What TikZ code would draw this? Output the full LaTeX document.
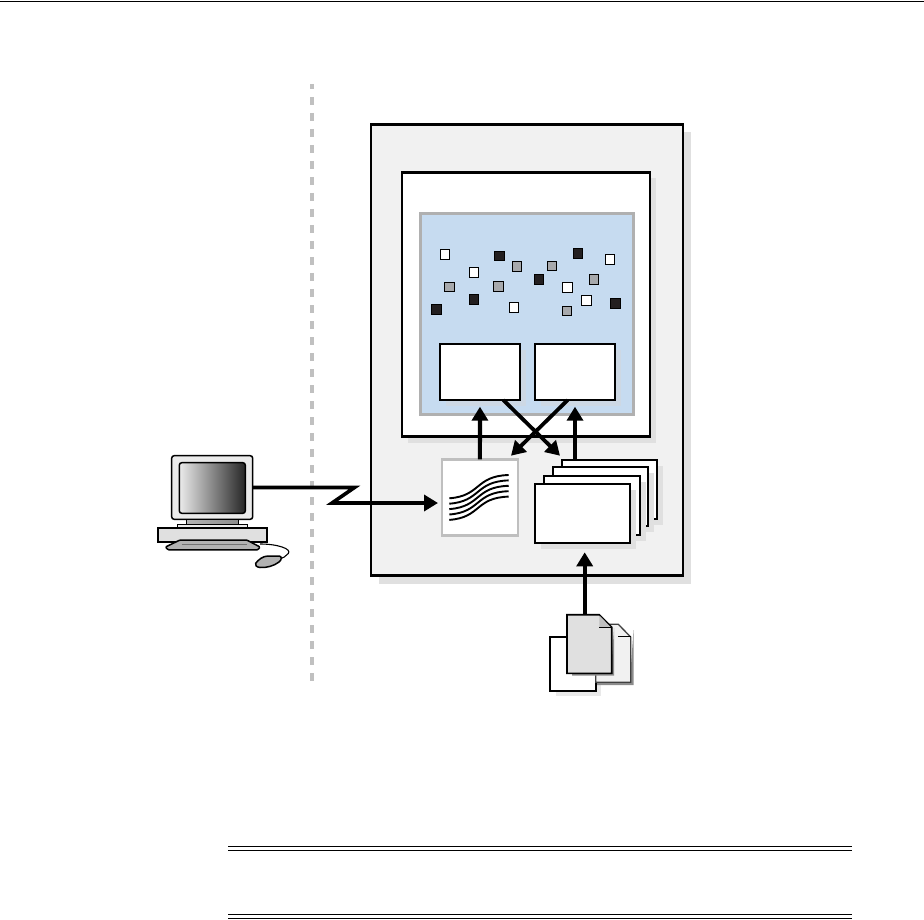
\documentclass[tikz,border=0pt]{standalone}
\usepackage{xcolor}
\usetikzlibrary{arrows.meta,shadows}
\definecolor{panelbg}{HTML}{f1f1f1}
\definecolor{shadowgray}{HTML}{e0e0e0}
\definecolor{memblue}{HTML}{c6dbf0}
\definecolor{memshadow}{HTML}{cdd8e4}
\definecolor{rimgray}{HTML}{b0b0b0}
\definecolor{darksq}{HTML}{231f20}
\definecolor{midsq}{HTML}{a7a9ac}
\begin{document}
\begin{tikzpicture}[x=1pt,y=-1pt,
  plainbox/.style={draw=black, line width=2.2pt, fill=white, inner sep=0pt, outer sep=0pt},
  panel/.style={plainbox, fill=panelbg,
    drop shadow={shadow xshift=8pt, shadow yshift=-8pt, opacity=1, fill=shadowgray}},
  sheet/.style={plainbox, minimum width=95.6pt, minimum height=59pt,
    drop shadow={shadow xshift=6pt, shadow yshift=-6pt, opacity=1, fill=shadowgray}},
  membox/.style={plainbox, minimum width=80pt, minimum height=56pt,
    drop shadow={shadow xshift=6pt, shadow yshift=-6pt, opacity=1, fill=memshadow}},
  sq/.style={draw=black, line width=1pt, inner sep=0pt, outer sep=0pt, minimum size=9.6pt},
  flow/.style={-{Triangle[length=14pt,width=16pt]}, line width=4.2pt, black},
  part/.style={draw=black, line width=1.5pt, inner sep=0pt, outer sep=0pt},
  rule/.style={line width=0.9pt, black}]
  \useasboundingbox (0,0) rectangle (924,920);
  \draw[rule] (0,1) -- (924,1);
  \draw[rule] (228,846) -- (852,846);
  \draw[rule] (228,850) -- (852,850);
  \draw[rule] (228,914) -- (852,914);
  \draw[rule] (228,918) -- (852,918);
  \draw[line width=4.4pt, color=rimgray!80, dash pattern=on 8pt off 8pt, dash phase=3pt] (312,84) -- (312,681);

  \node[panel, minimum width=311.5pt, minimum height=451pt] (server) at (527,350) {};
  \node[plainbox, minimum width=247.5pt, minimum height=264pt,
    drop shadow={shadow xshift=6pt, shadow yshift=-6pt, opacity=1, fill=shadowgray}] (instance) at (526,304.5) {};
  \node[draw=rimgray, line width=3pt, fill=memblue, inner sep=0pt, outer sep=0pt,
    minimum width=212.5pt, minimum height=201pt] (memory) at (526.75,314) {};

  \foreach \x/\y [count=\i] in {445/254.3, 474/272.7, 514/307.7, 567.3/287.7, 586.3/300.7, 610/259.3}
    \node[sq, fill=white] (light\i) at (\x,\y) {};
  \foreach \x/\y [count=\i] in {499.3/256, 436.3/309.3, 474/299.3, 539/279.3, 578/253.3, 615.3/303.7}
    \node[sq, fill=darksq] (dark\i) at (\x,\y) {};
  \foreach \x/\y [count=\i] in {449.3/287, 517/266.3, 498.3/286.3, 552/266, 594/279.3, 567/311}
    \node[sq, fill=midsq] (mid\i) at (\x,\y) {};

  \node[membox] (boxl) at (480,372) {};
  \node[membox] (boxr) at (575,372) {};

  \node[draw=black!25, line width=2.6pt, fill=white, inner sep=0pt, outer sep=0pt,
    minimum width=76pt, minimum height=76pt] (wave) at (479.85,497.3) {};
  \foreach \i in {0,...,4}
    \draw[line width=1.9pt] (449.3,498.3+5.4*\i) .. controls (481,496+5.4*\i) and (475,476+5.4*\i) .. (508.7,475+5.4*\i);

  \node[sheet] (sheetd) at (609.5,489.5) {};
  \node[sheet] (sheetc) at (600.5,496.8) {};
  \node[sheet] (sheetb) at (592,505.3) {};
  \node[sheet] (sheeta) at (582.5,513.5) {};

  % connectors
  \coordinate (crossa) at (503.3,400);
  \coordinate (crossb) at (567.7,400);
  \coordinate (inwave) at (511,455.7);
  \coordinate (insheet) at (560,455.7);
  \draw[flow, shorten >=6.7pt] (wave.north) -- (boxl.south);
  \draw[flow, shorten >=6.7pt] (boxr |- sheetd.north) -- (boxr.south);
  \draw[flow, line width=3.8pt] (crossa) -- (insheet);
  \draw[flow, line width=3.8pt] (crossb) -- (inwave);

  % pages
  \fill[shadowgray!70] (556,642) rectangle (601,696);
  \draw[line width=2pt, fill=white] (550,636.7) rectangle (595.7,691);
  \fill[black!45] (633.5,630) -- (633.5,685) -- (597,685) -- (597,680) -- (630,680) -- cycle;
  \draw[line width=1.3pt, black!75, fill=panelbg] (585,624.3) -- (618.3,624.3) -- (630.7,637) -- (630.7,682.3) -- (595.7,682.3) -- (595.7,670) -- (585,670) -- cycle;
  \draw[line width=1.5pt] (618.3,636.7) -- (630.7,636.7);
  \fill[black!45] (614,628) -- (614,675.5) -- (572,675.5) -- (572,673) -- (611,673) -- cycle;
  \draw[line width=1.6pt, fill=black!12] (567,614.7) -- (599.3,614.7) -- (611.7,627.3) -- (611.7,673.3) -- (567,673.3) -- cycle;
  \draw[fill=black!25, draw=none] (599.3,615.5) -- (611,627.3) -- (599.3,627.3) -- cycle;
  \draw[line width=1.3pt] (599.3,627.3) -- (611.7,627.3);
  \coordinate (docout) at (584.7,614.7);
  \coordinate (stackin) at (584.7,552.3);
  \draw[flow] (docout) -- (stackin);

  % workstation
  \draw[line width=1.1pt] (260,544) .. controls (278,544) and (292,549) .. (288.3,553.5) .. controls (286,556.5) and (283,558) .. (279,559);
  \draw[part, fill=black!30] (255.7,563.3) .. controls (258,560) and (263,556) .. (268,556) -- (279,556) .. controls (282,556) and (282,560) .. (279,562) .. controls (274,566) and (266,568) .. (260,567.5) .. controls (256,567) and (255,565) .. (255.7,563.3) -- cycle;
  \node[part, fill=black!8, rounded corners=2.5pt, minimum width=81pt, minimum height=63.6pt] (monitor) at (212.2,487.5) {};
  \node[part, rounded corners=2.5pt, left color=black!8, right color=black!85, minimum width=66pt, minimum height=50.6pt] (screen) at (212.3,488) {};
  \node[part, line width=0.9pt, left color=black!30, middle color=white, right color=black!45, minimum width=51.6pt, minimum height=5.3pt] (neck) at (212.5,521.7) {};
  \node[part, line width=1pt, fill=black!8, minimum width=70pt, minimum height=4pt] (plinth) at (212.3,526.3) {};
  \node[plainbox, line width=2pt, fill=black!12, minimum width=109pt, minimum height=14pt] (cpu) at (212.8,535.3) {};
  \draw[part, fill=black!30, rounded corners=1pt] (165.5,547) -- (180,540) -- (246.7,540) -- (260,547) -- (258,549.8) -- (168,549.8) -- cycle;
  \draw[black!55, line width=0.7pt] (181.7,544) -- (246.7,544);

  \coordinate (kinka) at (354.5,487.5);
  \coordinate (kinkb) at (332,503);
  \coordinate (inlink) at (438,503);
  \draw[flow, line width=3.6pt, miter limit=12] (monitor.east) -- (kinka) -- (kinkb) -- (inlink);
\end{tikzpicture}
\end{document}
